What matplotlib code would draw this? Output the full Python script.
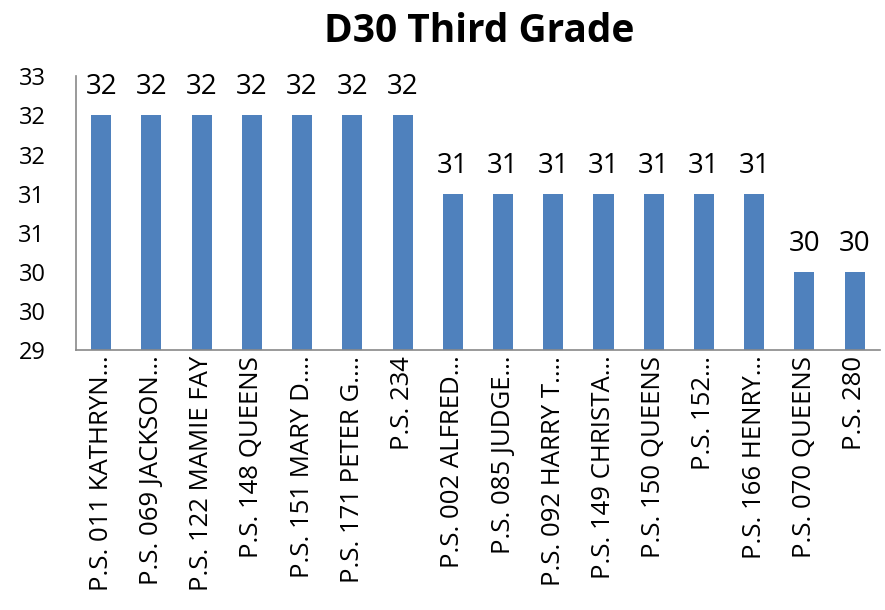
import numpy as np
import matplotlib.pyplot as plt

plt.rcParams['font.family'] = ['Open Sans', 'DejaVu Sans']

schools = ["P.S. 011 KATHRYN…", "P.S. 069 JACKSON…", "P.S. 122 MAMIE FAY",
           "P.S. 148 QUEENS", "P.S. 151 MARY D.…", "P.S. 171 PETER G.…",
           "P.S. 234", "P.S. 002 ALFRED…", "P.S. 085 JUDGE…",
           "P.S. 092 HARRY T.…", "P.S. 149 CHRISTA…", "P.S. 150 QUEENS",
           "P.S. 152…", "P.S. 166 HENRY…", "P.S. 070 QUEENS", "P.S. 280"]
scores = [32, 32, 32, 32, 32, 32, 32, 31, 31, 31, 31, 31, 31, 31, 30, 30]
yticks = [29, 29.5, 30, 30.5, 31, 31.5, 32, 32.5]
ytick_labels = ["29", "30", "30", "31", "31", "32", "32", "33"]

fig = plt.figure(figsize=(8.85, 6.1), dpi=100)
ax = fig.add_axes([0.086, 0.426, 0.908, 0.449])

x = np.arange(len(schools))
ax.bar(x, scores, width=0.4, color='#4F81BD')
ax.set_ylim(29, 32.5)
ax.set_xlim(-0.5, len(schools) - 0.5)

# value labels above each bar
for xi, v in zip(x, scores):
    ax.annotate(str(v), (xi, v), xytext=(0, 10), textcoords='offset points',
                ha='center', va='bottom', fontsize=20)

ax.set_yticks(yticks)
ax.set_yticklabels(ytick_labels, fontsize=17)
ax.tick_params(axis='y', length=0, pad=22)
ax.set_xticks(x)
ax.set_xticklabels(schools, rotation=90, fontsize=18.5, va='top', ha='center')
ax.tick_params(axis='x', length=0, pad=4)

for s in ['top', 'right']:
    ax.spines[s].set_visible(False)
for s in ['left', 'bottom']:
    ax.spines[s].set_color('#898989')
    ax.spines[s].set_linewidth(1.2)

fig.suptitle("D30 Third Grade", fontsize=28, fontweight='bold', x=0.542, y=0.98)

fig.savefig('out.png', dpi=100)
